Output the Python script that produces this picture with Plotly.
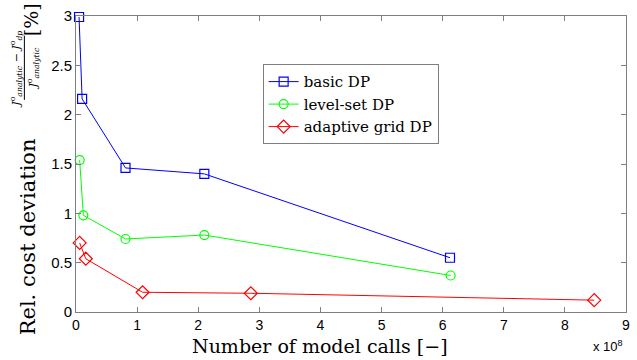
import plotly.graph_objects as go

# Data (x in units of 1e8 model calls, y in %)
basic_x = [0.05, 0.10, 0.81, 2.10, 6.12]
basic_y = [2.99, 2.16, 1.46, 1.40, 0.55]
level_x = [0.06, 0.12, 0.81, 2.10, 6.13]
level_y = [1.54, 0.98, 0.74, 0.78, 0.37]
adapt_x = [0.06, 0.16, 1.09, 2.86, 8.48]
adapt_y = [0.70, 0.54, 0.20, 0.19, 0.12]
x_ticks = [0, 1, 2, 3, 4, 5, 6, 7, 8, 9]
y_ticks = [0, 0.5, 1, 1.5, 2, 2.5, 3]
y_ticklabels = ["0", "0.5", "1", "1.5", "2", "2.5", "3"]

W, H = 637, 360
ML, MR, MT, MB = 76, 7, 12, 48
PW, PH = W - ML - MR, H - MT - MB

def px(xp):
    return (xp - ML) / PW

def py(yp):
    return 1 - (yp - MT) / PH

serif = "DejaVu Serif"
sans = "Liberation Sans"

fig = go.Figure()
fig.add_trace(go.Scatter(x=basic_x, y=basic_y, mode="lines+markers", name="basic DP",
                         line=dict(color="#0000FF", width=1), cliponaxis=False,
                         marker=dict(symbol="square-open", size=9, color="#0000FF", line=dict(width=1.2))))
fig.add_trace(go.Scatter(x=level_x, y=level_y, mode="lines+markers", name="level-set DP",
                         line=dict(color="#00FF00", width=1), cliponaxis=False,
                         marker=dict(symbol="circle-open", size=9, color="#00FF00", line=dict(width=1.2))))
fig.add_trace(go.Scatter(x=adapt_x, y=adapt_y, mode="lines+markers", name="adaptive grid DP",
                         line=dict(color="#FF0000", width=1), cliponaxis=False,
                         marker=dict(symbol="diamond-open", size=10, color="#FF0000", line=dict(width=1.2))))

axcol = "#7f7f7f"
fig.update_layout(
    width=W, height=H,
    margin=dict(l=ML, r=MR, t=MT, b=MB),
    paper_bgcolor="white", plot_bgcolor="white",
    font=dict(family=serif),
    showlegend=True,
    legend=dict(x=px(264), y=py(61), xanchor="left", yanchor="top",
                bgcolor="white", bordercolor=axcol, borderwidth=1,
                font=dict(family=serif, size=15, color="black"),
                tracegroupgap=0, itemwidth=30),
    xaxis=dict(range=[0, 9], tickvals=x_ticks, ticktext=[str(v) for v in x_ticks],
               ticks="inside", ticklen=5, tickcolor=axcol, showline=True, linecolor=axcol,
               linewidth=1, mirror="ticks", showgrid=False, zeroline=False,
               tickfont=dict(family=sans, size=14, color="black")),
    yaxis=dict(range=[0, 3], tickvals=y_ticks, ticktext=y_ticklabels,
               ticks="inside", ticklen=5, tickcolor=axcol, showline=True, linecolor=axcol,
               linewidth=1, mirror="ticks", showgrid=False, zeroline=False,
               tickfont=dict(family=sans, size=15, color="black")),
)

# x-axis title
fig.add_annotation(text="Number of model calls [−]", xref="paper", yref="paper",
                   x=px(322), y=py(346), xanchor="center", yanchor="middle", showarrow=False,
                   font=dict(family=serif, size=19, color="black"))
# y-axis title built from pieces (fraction)
fig.add_annotation(text="Rel. cost deviation", textangle=-90, xref="paper", yref="paper",
                   x=px(28), y=py(236), xanchor="center", yanchor="middle", showarrow=False,
                   font=dict(family=serif, size=21, color="black"))
fig.add_annotation(text="<i>J</i><sup>o</sup><sub><i>analytic</i></sub> − <i>J</i><sup>o</sup><sub><i>dp</i></sub>",
                   textangle=-90, xref="paper", yref="paper",
                   x=px(16), y=py(66), xanchor="center", yanchor="middle", showarrow=False,
                   font=dict(family=serif, size=11, color="black"))
fig.add_annotation(text="<i>J</i><sup>o</sup><sub><i>analytic</i></sub>",
                   textangle=-90, xref="paper", yref="paper",
                   x=px(33), y=py(65), xanchor="center", yanchor="middle", showarrow=False,
                   font=dict(family=serif, size=11, color="black"))
fig.add_shape(type="line", xref="paper", yref="paper", x0=px(24), x1=px(24), y0=py(32), y1=py(97),
              line=dict(color="black", width=1))
fig.add_annotation(text="[%]", textangle=-90, xref="paper", yref="paper",
                   x=px(31), y=py(16), xanchor="center", yanchor="middle", showarrow=False,
                   font=dict(family=serif, size=19, color="black"))
# x-axis exponent
fig.add_annotation(text="x 10<sup>8</sup>", xref="paper", yref="paper",
                   x=px(629), y=py(346), xanchor="right", yanchor="middle", showarrow=False,
                   font=dict(family=sans, size=13, color="black"))

fig.write_html("out.html")
